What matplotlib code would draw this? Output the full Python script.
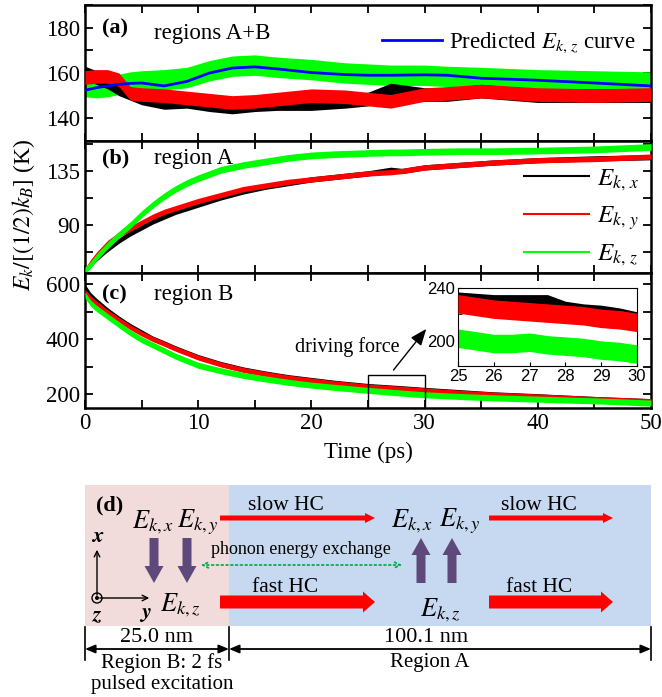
import matplotlib.pyplot as plt
from matplotlib.patches import Rectangle, FancyArrow, Circle
from matplotlib.lines import Line2D
from matplotlib.ticker import MultipleLocator

plt.rcParams['font.family'] = 'serif'
plt.rcParams['font.serif'] = ['Liberation Serif', 'DejaVu Serif']
plt.rcParams['mathtext.fontset'] = 'stix'

# colours
cx = "#000000"
cy = "#FF0000"
cz = "#00FF00"
cpred = "#0000FF"

# (a) regions A+B
ta = [0, 1, 2, 3, 4, 5, 7, 9, 11, 13, 15, 17, 20, 23, 25, 27, 30, 32, 35, 40, 45, 50]
pred_a = [152.4, 153.5, 154.3, 155, 155.4, 155.6, 154.3, 156.3, 160, 162.2, 162.7, 161.8,
          160.2, 159.3, 159, 159, 159.2, 159, 157.7, 156.8, 155.6, 154.3]
ekx_a = [160, 158, 156, 153, 151, 149, 147, 147.5, 146, 145, 146, 146.5, 146.5, 147.5,
         148.5, 152.5, 150.5, 150.5, 152, 150, 150, 150]
eky_a = [158, 158.5, 158.5, 157, 151, 150.5, 150, 149, 148, 147, 147.5, 148.5, 150, 149.5,
         148.5, 147.5, 150.5, 151, 152, 150.5, 150, 150.5]
ekz_a = [154, 153.5, 154, 155, 156, 156.5, 157, 158, 161, 163, 163.5, 162.5, 161.5, 160,
         159.5, 159, 159, 158.5, 158, 157, 156.5, 156]
spread_a = [3, 3, 4.5]

# (b) region A
tb = [0, 0.5, 1, 2, 3, 4, 5, 6, 7, 8, 9, 10, 12, 14, 16, 18, 20, 22, 25, 27, 28, 30, 33, 36, 40, 45, 50]
ekx_b = [52, 57, 62, 70, 77, 83, 88, 93, 97, 101, 104, 107, 113, 118, 122, 125, 128, 130, 133,
         136, 135, 138, 140, 142, 144, 145.5, 146.5]
eky_b = [52, 59, 65, 75, 82, 87, 92, 97, 101, 104, 107, 110, 115, 120, 123, 126, 128, 130, 133,
         134, 135, 138, 140, 142, 144, 145, 147]
ekz_b = [52, 57, 63, 73, 82, 90, 99, 107, 114, 120, 125, 129, 136, 140, 143, 146, 148, 149, 150,
         150.5, 150.5, 151, 151.5, 151.5, 152, 153, 155]
spread_b = [2.2, 2.2, 2.8]

# (c) region B
tc = [0, 0.5, 1, 2, 3, 4, 5, 6, 7, 8, 10, 12, 14, 16, 18, 20, 22, 25, 28, 30, 33, 36, 40, 45, 50]
ekx_c = [590, 560, 540, 505, 475, 448, 425, 402, 385, 367, 335, 310, 290, 275, 262, 252, 242,
         230, 222, 216, 208, 200, 193, 183, 175]
eky_c = [570, 548, 530, 498, 470, 443, 420, 400, 383, 365, 333, 308, 288, 273, 260, 250, 240,
         228, 220, 214, 206, 199, 192, 183, 175]
ekz_c = [560, 530, 512, 482, 452, 423, 398, 378, 358, 338, 305, 285, 268, 255, 243, 233, 225,
         214, 204, 198, 192, 187, 182, 176, 168]
spread_c = [9, 9, 11]

# inset 25-30 ps
ti = [25, 25.5, 26, 26.5, 27, 27.5, 28, 28.5, 29, 29.5, 30]
ekx_i = [230, 229, 228, 228, 228, 228, 223, 221, 220, 218, 215]
eky_i = [228, 226, 224, 223, 222, 221, 220, 219, 217, 216, 214]
ekz_i = [202, 200, 198, 198, 199, 197, 196, 195, 193, 192, 190]
spread_i = [7, 7, 7]


def band(ax, t, v, s, c, z=2):
    ax.fill_between(t, [x - s for x in v], [x + s for x in v], color=c, lw=0, zorder=z)


def style(ax, major, minor, ylim):
    ax.set_xlim(0, 50)
    ax.set_ylim(*ylim)
    ax.xaxis.set_major_locator(MultipleLocator(10))
    ax.xaxis.set_minor_locator(MultipleLocator(5))
    ax.yaxis.set_major_locator(MultipleLocator(major))
    ax.yaxis.set_minor_locator(MultipleLocator(minor))
    ax.tick_params(which='both', direction='in', top=True, right=True, labelsize=16.5)
    ax.tick_params(which='major', length=6, width=1.3)
    ax.tick_params(which='minor', length=6, width=1.3)
    for sp in ax.spines.values():
        sp.set_linewidth(1.8)


fig = plt.figure(figsize=(6.62, 6.97), dpi=100)
L, W = 85 / 662, 566 / 662
axa = fig.add_axes([L, 1 - 141 / 697, W, 136 / 697])
axb = fig.add_axes([L, 1 - 273 / 697, W, 132 / 697])
axc = fig.add_axes([L, 1 - 408 / 697, W, 135 / 697])

# panel a
band(axa, ta, ekz_a, spread_a[2], cz, 2)
band(axa, ta, ekx_a, spread_a[0], cx, 3)
band(axa, ta, eky_a, spread_a[1], cy, 4)
axa.plot(ta, pred_a, color=cpred, lw=2, zorder=5)
style(axa, 20, 10, (130, 190))
axa.tick_params(labelbottom=False)
axa.text(0.03, 0.83, "(a)", transform=axa.transAxes, fontsize=16, fontweight='bold', va='center')
axa.text(0.122, 0.79, "regions A+B", transform=axa.transAxes, fontsize=16.5, va='center')
axa.legend([Line2D([], [], color=cpred, lw=2)], [r"Predicted $E_{k,\,z}$ curve"],
           loc='upper right', bbox_to_anchor=(1.0, 0.93), frameon=False, fontsize=16.5,
           handlelength=2.6, borderaxespad=0.3, handletextpad=0.3)

# panel b
band(axb, tb, ekx_b, spread_b[0], cx, 2)
band(axb, tb, eky_b, spread_b[1], cy, 3)
band(axb, tb, ekz_b, spread_b[2], cz, 4)
style(axb, 45, 22.5, (50, 160))
axb.tick_params(labelbottom=False)
axb.text(0.03, 0.87, "(b)", transform=axb.transAxes, fontsize=16, fontweight='bold', va='center')
axb.text(0.122, 0.87, "region A", transform=axb.transAxes, fontsize=16.5, va='center')
hb = [Line2D([], [], color=c, lw=1.5) for c in (cx, cy, cz)]
axb.legend(hb, [r"$E_{k,\,x}$", r"$E_{k,\,y}$", r"$E_{k,\,z}$"], loc='lower right',
           bbox_to_anchor=(1.0, -0.06), frameon=False, fontsize=18, handlelength=2.6,
           labelspacing=0.45, borderaxespad=0.1, handletextpad=0.3)

# panel c
band(axc, tc, ekx_c, spread_c[0], cx, 2)
band(axc, tc, eky_c, spread_c[1], cy, 3)
band(axc, tc, ekz_c, spread_c[2], cz, 4)
style(axc, 200, 100, (150, 640))
axc.text(0.03, 0.84, "(c)", transform=axc.transAxes, fontsize=16, fontweight='bold', va='center')
axc.text(0.122, 0.84, "region B", transform=axc.transAxes, fontsize=16.5, va='center')
axc.add_patch(Rectangle((25, 150), 5, 120, fill=False, ec='black', lw=1, zorder=6))
axc.annotate("", xy=(30.3, 445), xytext=(27.1, 280),
             arrowprops=dict(arrowstyle='-|>,head_length=1.0,head_width=0.4', color='black', lw=1))
axc.text(23.2, 372, "driving force", fontsize=14.5, ha='center', va='center')

# inset
axi = fig.add_axes([458 / 662, 1 - 366 / 697, 179 / 662, 78 / 697])
band(axi, ti, ekz_i, spread_i[2], cz, 2)
band(axi, ti, ekx_i, spread_i[0], cx, 3)
band(axi, ti, eky_i, spread_i[1], cy, 4)
axi.set_xlim(25, 30)
axi.set_ylim(181, 240)
axi.xaxis.set_major_locator(MultipleLocator(1))
axi.yaxis.set_major_locator(MultipleLocator(40))
axi.yaxis.set_minor_locator(MultipleLocator(20))
axi.tick_params(which='both', direction='in', length=3, labelsize=12, pad=2)
for lab in axi.get_xticklabels() + axi.get_yticklabels():
    lab.set_family('Liberation Sans')

fig.text(24 / 662, 1 - 215 / 697, r"$E_k/[(1/2)k_B]$ (K)", rotation=90, fontsize=17,
         ha='center', va='center')
fig.text(368 / 662, 1 - 452 / 697, "Time (ps)", fontsize=16.5, ha='center', va='center')

# panel d: schematic drawn in pixel coordinates
axd = fig.add_axes([0, 0, 1, 1])
axd.set_xlim(0, 662)
axd.set_ylim(697, 0)
axd.axis('off')

axd.add_patch(Rectangle((85, 485), 144, 141, color='#F2DCDB', lw=0))
axd.add_patch(Rectangle((229, 485), 422, 141, color='#C6D9F1', lw=0))

red = '#FF0000'
purple = '#5F497A'
for x0, x1 in ((220, 375), (489, 613)):
    axd.add_patch(FancyArrow(x0, 518, x1 - x0, 0, width=5, head_width=10, head_length=10,
                             length_includes_head=True, color=red, lw=0))
    axd.add_patch(FancyArrow(x0, 602, x1 - x0, 0, width=13, head_width=21, head_length=12,
                             length_includes_head=True, color=red, lw=0))
    axd.text((x0 + x1) / 2 - 12, 505, "slow HC", fontsize=15.5, ha='center', va='center')
    axd.text((x0 + x1) / 2 - 12, 588, "fast HC", fontsize=15.5, ha='center', va='center')

for x in (154, 187):
    axd.add_patch(FancyArrow(x, 538, 0, 45, width=9, head_width=19, head_length=17,
                             length_includes_head=True, color=purple, lw=0))
for x in (421, 452):
    axd.add_patch(FancyArrow(x, 583, 0, -45, width=9, head_width=19, head_length=17,
                             length_includes_head=True, color=purple, lw=0))

axd.annotate("", xy=(198, 565), xytext=(405, 565),
             arrowprops=dict(arrowstyle='<->', linestyle=':', color='#00B050', lw=1.3))
axd.text(301, 550, "phonon energy exchange", fontsize=13, ha='center', va='center')

for s, x, y in ((r"$E_{k,x}$", 153, 522), (r"$E_{k,y}$", 198, 522),
                (r"$E_{k,x}$", 412, 521), (r"$E_{k,y}$", 460, 521),
                (r"$E_{k,z}$", 180, 605), (r"$E_{k,z}$", 440, 610)):
    axd.text(x, y, s, fontsize=19, ha='center', va='center')

axd.text(110, 505, "(d)", fontsize=16, fontweight='bold', ha='center', va='center')

# coordinate symbol
axd.annotate("", xy=(97, 547), xytext=(97, 598), arrowprops=dict(arrowstyle='->', lw=1, color='k'))
axd.annotate("", xy=(152, 598), xytext=(97, 598), arrowprops=dict(arrowstyle='->', lw=1, color='k'))
axd.add_patch(Circle((97, 598), 5, fill=False, ec='k', lw=1))
axd.add_patch(Circle((97, 598), 1.3, color='k'))
axd.text(98, 538, r"$\boldsymbol{x}$", fontsize=16, ha='center', va='center')
axd.text(145, 614, r"$\boldsymbol{y}$", fontsize=16, ha='center', va='center')
axd.text(98, 617, r"$\boldsymbol{z}$", fontsize=16, ha='center', va='center')

# dimensions
for x in (85, 229, 651):
    axd.plot([x, x], [627, 660], color='k', lw=1.2)
axd.annotate("", xy=(85, 649), xytext=(229, 649),
             arrowprops=dict(arrowstyle='<|-|>,head_length=0.6,head_width=0.25', lw=1.3, color='k',
                             shrinkA=0, shrinkB=0))
axd.annotate("", xy=(229, 649), xytext=(651, 649),
             arrowprops=dict(arrowstyle='<|-|>,head_length=0.6,head_width=0.25', lw=1.3, color='k',
                             shrinkA=0, shrinkB=0))
axd.text(157, 637, "25.0 nm", fontsize=16, ha='center', va='center')
axd.text(426, 637, "100.1 nm", fontsize=16, ha='center', va='center')
axd.text(162, 663, "Region B: 2 fs", fontsize=15, ha='center', va='center')
axd.text(162, 685, "pulsed excitation", fontsize=15, ha='center', va='center')
axd.text(430, 663, "Region A", fontsize=15, ha='center', va='center')

fig.savefig("out.png", dpi=100)
